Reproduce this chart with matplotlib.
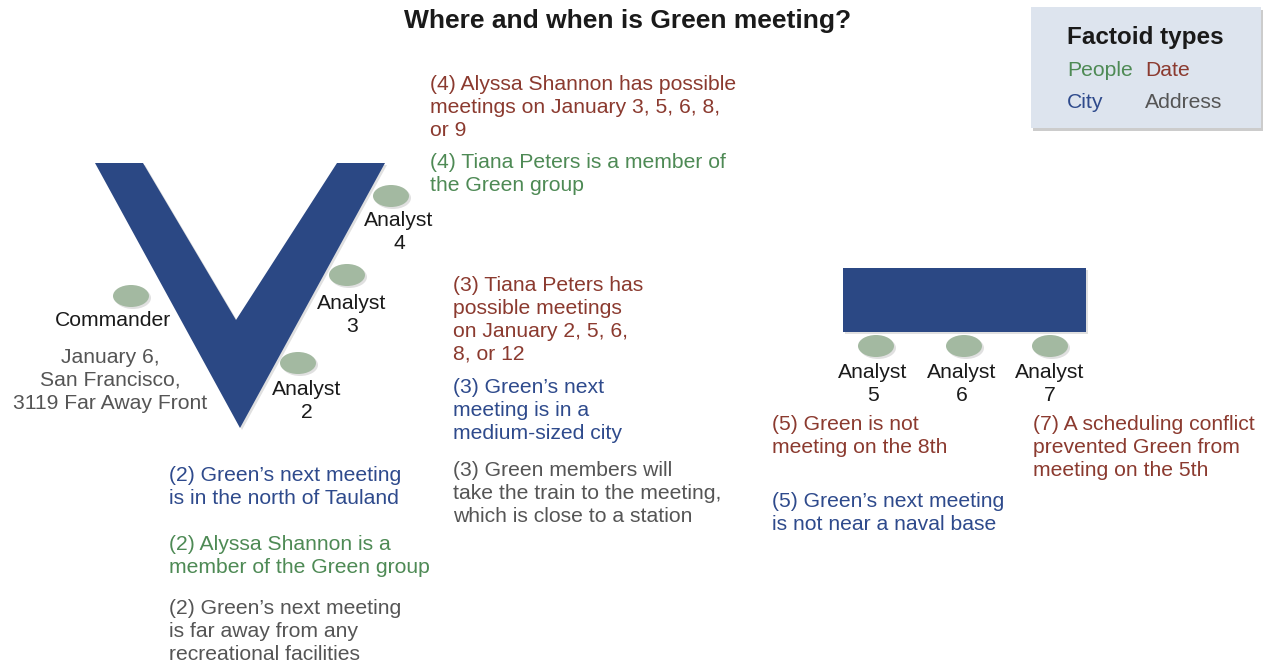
import matplotlib

matplotlib.use("Agg")

import matplotlib.pyplot as plt
from matplotlib.patches import Polygon, Ellipse, Rectangle

# ---- content -------------------------------------------------------------
title = "Where and when is Green meeting?"

legend_title = "Factoid types"
legend_labels = ["People", "Date", "City", "Address"]
legend_types = ["people", "date", "city", "address"]

type_colors = {
    "people": "#4e8a55",
    "date": "#8b3a2f",
    "city": "#2e4a8c",
    "address": "#555555",
}

factoid_texts = [
    "(4) Alyssa Shannon has possible\nmeetings on January 3, 5, 6, 8,\nor 9",
    "(4) Tiana Peters is a member of\nthe Green group",
    "(3) Tiana Peters has\npossible meetings\non January 2, 5, 6,\n8, or 12",
    "(3) Green\u2019s next\nmeeting is in a\nmedium-sized city",
    "(3) Green members will\ntake the train to the meeting,\nwhich is close to a station",
    "(2) Green\u2019s next meeting\nis in the north of Tauland",
    "(2) Alyssa Shannon is a\nmember of the Green group",
    "(2) Green\u2019s next meeting\nis far away from any\nrecreational facilities",
    "(5) Green is not\nmeeting on the 8th",
    "(7) A scheduling conflict\nprevented Green from\nmeeting on the 5th",
    "(5) Green\u2019s next meeting\nis not near a naval base",
    "January 6,\nSan Francisco,\n3119 Far Away Front",
]
factoid_types = ["date", "people", "date", "city", "address", "city",
                 "people", "address", "date", "date", "city", "address"]

node_labels = ["Commander", "Analyst\n2", "Analyst\n3", "Analyst\n4",
               "Analyst\n5", "Analyst\n6", "Analyst\n7"]

# ---- layout (pixel coordinates, y grows downward) -------------------------
W, H = 1268, 666
STEP = 22.8
FS = 15.2

factoid_pos = [(430, 90), (430, 168), (453, 291), (453, 393), (453, 476),
               (169, 481), (169, 550), (169, 614), (772, 430), (1033, 430),
               (772, 507), (110, 363)]
factoid_align = ["left"] * 11 + ["center"]

node_pos = [(131, 296), (298, 363), (347, 275), (391, 196),
            (876, 346), (964, 346), (1050, 346)]
node_label_pos = [(113, 326), (307, 395), (352, 309), (399, 226),
                  (873, 378), (962, 378), (1050, 378)]

v_shape = [(95, 163), (143, 163), (236, 320), (337, 163), (385, 163), (240, 428)]
bar_box = (843, 268, 243, 64)

NAVY = "#2b4884"
SAGE = "#a3b9a1"
FONT = ["Liberation Sans", "DejaVu Sans"]

plt.rcParams["font.family"] = FONT

fig = plt.figure(figsize=(W / 100, H / 100), dpi=100)
ax = fig.add_axes([0, 0, 1, 1])
ax.set_xlim(0, W)
ax.set_ylim(H, 0)
ax.axis("off")


def block(x, y, text, color, ha="left", size=FS, weight="normal"):
    for i, line in enumerate(text.split("\n")):
        ax.text(x, y + i * STEP, line, color=color, fontsize=size,
                ha=ha, va="baseline", fontweight=weight)


# title
ax.text(628, 28, title, fontsize=19, fontweight="bold", ha="center",
        va="baseline", color="#1a1a1a")

# legend box with shadow
ax.add_patch(Rectangle((1033, 10), 230, 121, color="#000000", alpha=0.2, lw=0))
ax.add_patch(Rectangle((1031, 7), 230, 121, color="#dde4ee", lw=0))
ax.text(1067, 44, legend_title, fontsize=17.5, fontweight="bold",
        va="baseline", color="#1a1a1a")
legend_pos = [(1067, 76), (1145, 76), (1067, 108), (1145, 108)]
for (lx, ly), lab, t in zip(legend_pos, legend_labels, legend_types):
    ax.text(lx, ly, lab, fontsize=FS, color=type_colors[t], va="baseline")

# V formation with a soft shadow
ax.add_patch(Polygon([(x + 2, y + 2) for x, y in v_shape], closed=True,
                     color="#000000", alpha=0.12, lw=0))
ax.add_patch(Polygon(v_shape, closed=True, color=NAVY, lw=0))

# horizontal bar
bx, by, bw, bh = bar_box
ax.add_patch(Rectangle((bx + 2, by + 2), bw, bh, color="#000000", alpha=0.12, lw=0))
ax.add_patch(Rectangle((bx, by), bw, bh, color=NAVY, lw=0))

# people nodes
for (nx, ny) in node_pos:
    ax.add_patch(Ellipse((nx + 2, ny + 2), 36, 22, color="#000000", alpha=0.12, lw=0))
    ax.add_patch(Ellipse((nx, ny), 36, 22, color=SAGE, lw=0))

for (lx, ly), lab in zip(node_label_pos, node_labels):
    block(lx, ly, lab, "#1a1a1a", ha="center")

# factoids
for (fx, fy), txt, t, ha in zip(factoid_pos, factoid_texts, factoid_types, factoid_align):
    block(fx, fy, txt, type_colors[t], ha=ha)

fig.savefig("out.png", dpi=100)
